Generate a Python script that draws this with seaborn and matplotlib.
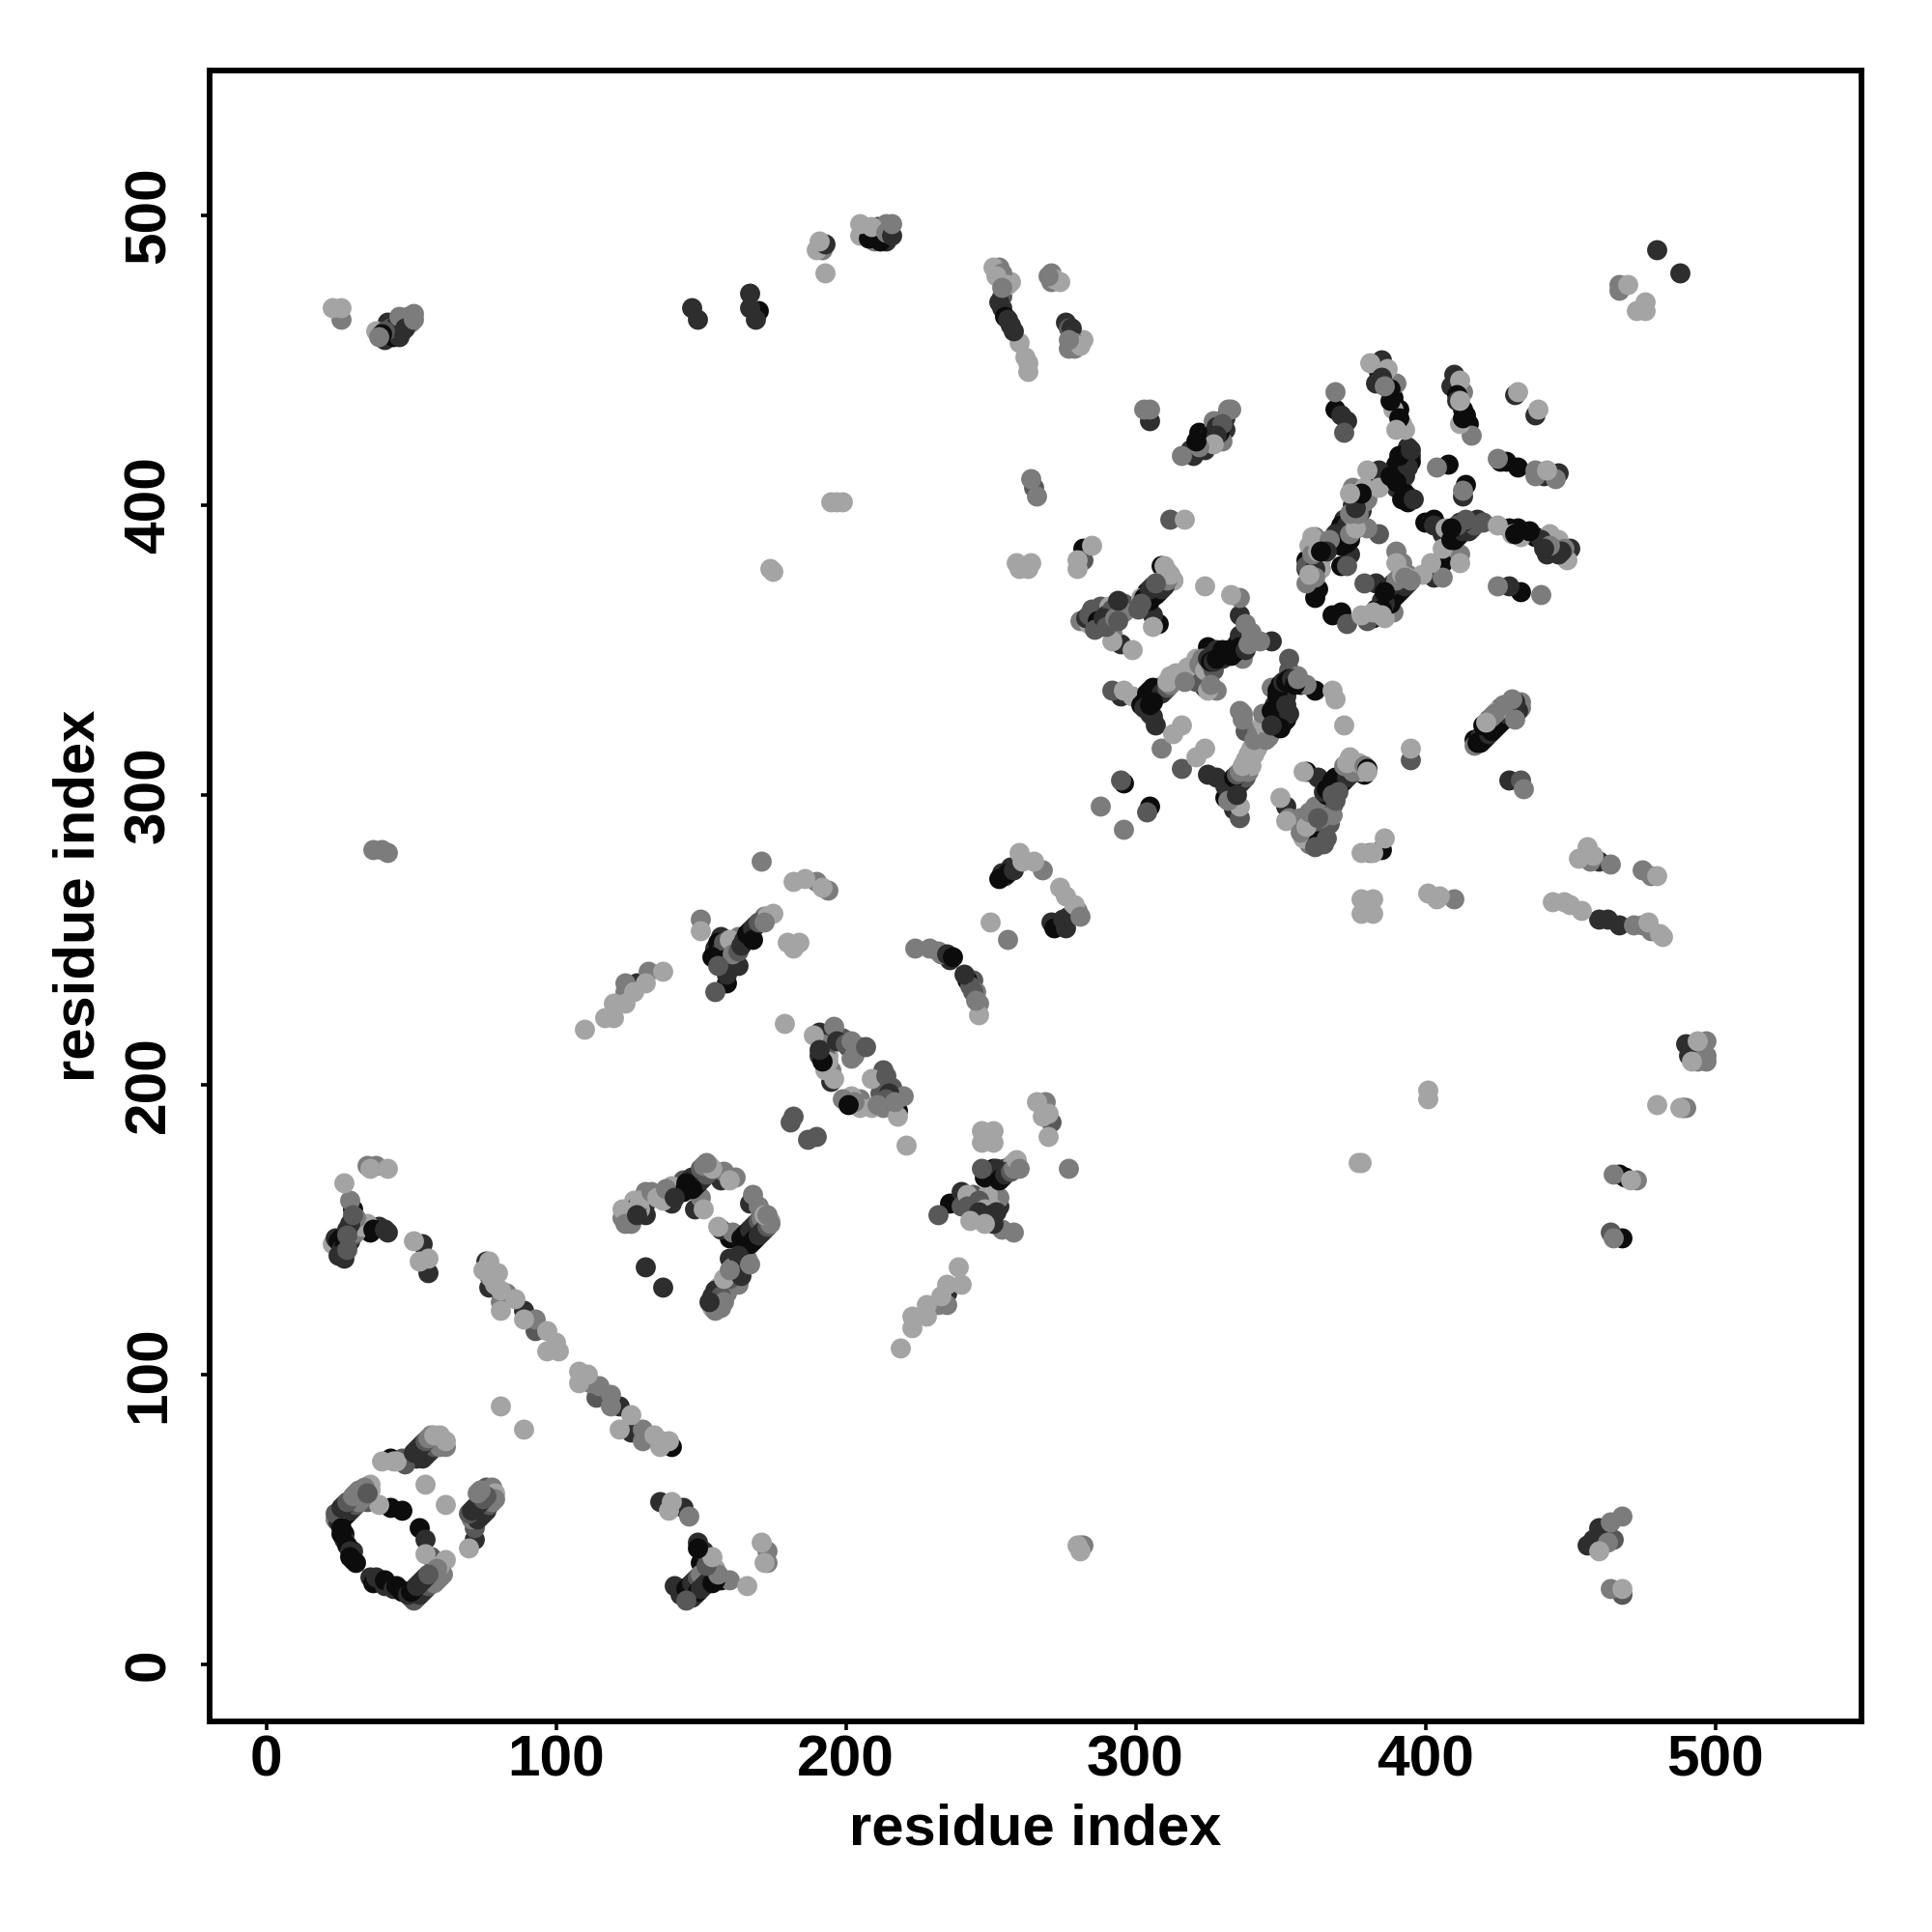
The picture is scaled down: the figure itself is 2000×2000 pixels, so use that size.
import matplotlib
matplotlib.use("Agg")
import matplotlib.pyplot as plt
import pandas as pd
import seaborn as sns

K, D, S, M, L = "k", "d", "s", "m", "l"
shade_colors = {"k": "#0c0c0c", "d": "#2e2e2e", "s": "#585858", "m": "#7c7c7c", "l": "#a4a4a4"}
tick_values = [0, 100, 200, 300, 400, 500]
axis_label = "residue index"

ring = [(24,50,M),(25,51,D),(26,52,D),(27,53,K),(28,54,S),(29,55,K),(30,56,M),(31,57,M),(32,58,M),(34,59,L),(36,60,L),(36,62,L),(33,60,M),(35,56,S),(39,55,L),(43,54,K),(47,53,K),
 (27,45,K),(27,43,D),(30,39,D),(30,36,K),(36,30,D),(39,29,D),(43,27,K),(46,26,K),(50,23,M),(51,24,D),(52,25,D),(53,26,D),(54,27,D),(55,28,M),(56,29,M),(57,30,M),(58,30,M),(59,31,M),(60,32,L),(62,36,L),(57,37,S),(55,38,L),(53,47,K),(55,43,D),
 (72,43,D),(70,40,L),(72,47,S),(71,50,M),(72,51,D),(73,52,D),(74,53,D),(75,54,D),(75,56,M),(76,57,D),(77,58,M),(76,61,S),(78,61,M),(79,59,L),
 (40,70,L),(43,71,K),(44,70,L),(47,71,S),(52,71,D),(53,72,D),(54,73,D),(55,74,D),(56,75,D),(57,76,S),(58,77,D),(59,78,L),(60,78,L),(61,76,M),(62,75,M),(55,62,L),(62,55,L)]
loop_left = [(35,172,M),(36,171,L),(38,172,M),(42,171,L),(27,166,L),(29,160,M),(30,157,K),(30,154,M),(23,145,L),(24,146,D),(25,144,K),(26,145,D),(27,146,K),(28,147,S),(29,149,M),(30,150,M),(31,151,M),(27,140,D),(26,142,K),(35,152,L),(36,149,K),(39,151,D),(42,149,D),
 (51,146,L),(54,145,D),(56,140,L),(56,135,D),(53,139,L)]
stripe_anti = [(76,139,D),(77,139,L),(75,136,L),(78,133,L),(77,130,D),(81,129,L),(81,125,M),(81,122,L),(86,126,L),(89,122,D),(89,119,L),(93,119,M),(93,115,S),(97,115,L),(100,111,L),(97,108,L),(101,108,L),
 (108,101,L),(108,97,L),(111,100,L),(112,97,M),(115,96,M),(114,92,S),(119,93,M),(119,89,M),(122,89,D),(126,86,L),(122,81,L),(126,80,D),(130,81,M),(130,77,M),(134,79,L),(136,77,K),(140,75,K),(136,75,L),(139,77,L),(81,89,L),(89,81,L),(79,131,L),(80,135,L),(77,134,M),(83,128,M)]
foot = [(136,56,D),(140,56,L),(139,53,L),(144,54,D),(146,51,M),(149,42,D),(151,39,D),(153,35,L),(150,35,K),(141,27,D),(144,26,D),(145,24,L),(146,23,L),(146,25,D),(147,25,K),(148,26,K),(149,27,D),(150,28,M),(151,29,M),(152,30,M),(153,31,M),(154,32,L),(155,33,L),(157,29,K),(160,29,M),(166,27,L),(171,42,L),(173,39,M),(173,35,M),(172,35,L)]
loop_mid = [(123,154,M),(123,157,L),(126,155,M),(127,160,L),(131,155,D),(131,159,D),(131,163,M),(129,157,L),(137,160,L),(140,159,D),(140,165,L),(140,164,D),(144,167,S),(146,165,K),(147,166,D),(148,167,K),(149,168,D),(150,169,D),(151,170,D),(152,171,M),(153,172,L),
 (150,161,M),(148,157,D),(151,157,L),(158,170,M),(157,167,D),(162,168,M),(160,167,L),(168,162,M),(167,159,D),(170,158,M),(165,145,K),(166,146,K),(167,147,K),(168,148,K),(169,149,D),(170,150,D),(171,151,D),(172,152,M),(174,153,L),
 (157,150,D),(156,151,L),(161,149,M),(160,147,K),(160,140,D),(166,140,M),(161,137,M),(164,137,L),(163,131,M),(159,131,D),(156,130,L),(159,128,M),(154,127,D),(156,124,M),(154,123,L),(157,123,M),(131,137,D),(137,130,D)]
upper_stripe = [(110,219,L),(117,223,L),(120,223,L),(120,228,L),(124,228,L),(124,232,M),(124,235,M),(128,235,D),(131,235,L),(132,239,M),(137,239,L),(127,232,L)]
patch_200 = [(179,221,L),(191,218,D),(189,217,L),(196,220,M),(199,216,S),(205,213,S),(201,213,D),(202,209,M),(194,213,D),(192,214,M),(194,210,L),(191,210,D),(195,205,M),(193,205,L),(196,202,L),(195,201,D),
 (213,205,S),(209,202,L),(213,200,S),(216,199,S),(220,196,M),(212,197,S),(202,196,L),(205,195,M),(205,192,L),(201,195,D),(209,192,L),(213,192,M),(218,191,K),(218,189,L),(221,179,L),(182,189,S),(181,187,S),(187,181,S),(190,182,S)]
patch_250 = [(232,155,S),(236,159,K),(240,163,D),(242,162,L),(240,158,S),(244,162,S),(244,155,L),(248,154,D),(245,158,L),(250,158,L),(249,162,L),(253,161,M),(253,158,D),(254,150,M),(258,149,M),
 (249,170,S),(251,168,K),(252,169,K),(253,169,K),(254,170,D),(255,171,D),(256,171,D),(257,172,M),(258,173,L),(247,184,L),(251,184,L),(247,180,L),(251,180,L),(249,182,L),(266,194,L),(269,194,M),(270,190,L),(271,187,S),(270,182,L),(268,189,L),(277,171,M)]
stripe_diag = [(219,109,L),(223,116,L),(223,120,L),(228,120,L),(228,124,L),(232,124,M),(235,124,M),(233,127,L),(235,128,D),(235,131,L),(240,131,L),(239,137,L)]
cluster_160 = [(155,232,S),(159,235,K),(150,257,M),(150,253,L),(155,247,D),(157,251,D),(157,243,M),(159,246,S),(163,251,M),(163,241,D),(159,238,D),(167,251,D),(169,255,D),(172,258,M),(175,259,L),(171,277,M),(180,249,L),(184,249,L),(182,247,L),(182,270,L),(186,271,L),(190,270,M),(192,268,L),(194,267,M)]
cluster_240 = [(224,247,M),(229,247,M),(233,245,M),(236,243,D),(244,236,S),(245,232,M),(246,228,M),(246,224,L),(250,256,L),(256,250,M),(254,273,D),(257,275,D),(260,280,L),(265,277,L),(268,274,M),(274,268,L),(276,265,L),(279,261,L),(280,260,M),(271,256,D),(274,256,D),(277,258,D),
 (37,281,M),(40,281,M),(42,280,M),(264,409,M),(265,406,S),(266,403,M),(259,380,L),(264,380,L),(260,378,L),(263,378,L),(195,401,L),(197,401,L),(199,401,L),(174,378,L),(175,377,L)]
top_row = [(23,468,L),(26,468,L),(26,464,M),(38,460,L),(41,457,D),(42,463,D),(45,460,D),(48,463,M),(51,466,M),(43,459,S),(147,468,D),(149,464,D),(167,473,D),(167,468,D),(170,467,K),(169,464,D),
 (192,489,D),(192,488,M),(190,488,L),(193,480,L),(207,495,M),(211,496,D),(214,497,M),(210,491,M),(214,491,D),(205,493,L),
 (251,482,L),(253,482,M),(254,477,M),(257,477,L),(254,468,D),(257,462,D),(260,456,L),(262,451,L),(263,449,L),(263,446,L),(271,480,M),(274,477,L),(271,477,M),(276,463,D),(278,458,M),(280,457,L),(282,457,L),(277,454,M)]
knot_320 = [(303,433,M),(305,433,M),(305,429,D),(316,417,M),(320,417,D),(319,419,D),(324,421,L),(322,425,K),(327,426,D),(326,422,M),(327,429,M),(330,422,M),(331,426,D),(331,430,D),(332,433,M),(333,433,M),(312,395,S),(317,395,L),
 (280,381,L),(280,378,L),(282,385,K),(282,381,S),(285,386,L)]
patch_290 = [(281,360,M),(284,359,L),(285,361,D),(285,364,S),(288,365,S),(288,358,M),(291,365,L),(292,356,M),(292,353,L),(295,352,D),(299,350,L),(296,366,S),(296,363,M),(302,368,L),(303,366,D),
 (304,370,K),(306,369,K),(307,371,D),(308,372,D),(309,373,M),(310,375,M),(311,377,M),(313,374,M),(309,379,K),(310,379,L),(313,374,L),(306,362,D),(308,359,K),(306,358,L),(324,372,L),(333,369,L),(336,368,M),
 (336,362,D),(338,359,M),(340,356,M),(343,353,M),(347,353,D),(337,347,M)]
diag_320 = [(292,336,S),(296,336,L),(295,334,D),(299,334,L),(303,334,D),(304,333,K),(305,334,K),(306,335,D),(307,336,D),(308,337,D),(309,337,M),(310,338,L),(313,340,L),(316,340,L),(318,344,L),(321,347,L),(325,351,K),(328,350,D),(326,348,D),(329,348,S),(332,350,D),(335,352,K),(336,355,D),(337,353,K),
 (321,339,S),(324,337,D),(328,336,M),(325,336,L),(305,328,D),(306,327,D),(307,324,D),(316,324,L),(313,321,L),(309,316,M),(324,316,L),(321,313,L),(316,309,S),(296,304,K),(305,296,K),(288,296,M),(296,288,M),(295,305,S),(304,294,S)]
diag_340 = [(325,307,D),(328,306,D),(332,301,D),(333,303,K),(334,304,K),(335,305,K),(336,306,D),(337,307,M),(338,309,M),(339,311,L),(341,314,L),(339,314,L),(344,321,M),(337,328,M),(336,329,M),(337,326,M),(338,322,S),(343,318,L),(336,296,L),(334,295,D),(336,292,S),
 (347,337,M),(353,347,S),(353,343,S),(356,341,M),(351,336,K),(350,334,D),(352,334,D),(357,338,K),(359,338,M),(362,336,K),(368,336,L),(369,333,L),(372,324,L),(351,328,D),(351,325,K),(346,328,M),(346,325,D),(347,322,M),(349,332,K),(351,333,D)]
patch_365 = [(350,299,L),(352,296,D),(353,292,M),(352,291,L),(357,292,M),(358,308,L),(359,308,K),(363,306,D),(366,304,K),(369,306,K),(367,302,D),(368,303,K),(369,304,K),(370,305,D),(371,306,K),(372,307,M),(373,308,M),(374,309,L),(376,309,L),(378,308,L),(379,307,K),(374,313,L),
 (368,296,S),(362,296,M),(366,292,M),(365,288,S),(360,287,D),(360,283,M),(358,285,L),(361,285,K),(364,286,D),(378,280,L),(381,280,M),(382,280,L),(385,281,K),(386,285,L),(395,316,L),(395,312,S),
 (429,305,D),(433,305,S),(434,302,M)]
diag_425 = [(417,317,M),(417,319,K),(419,320,D),(420,321,K),(421,322,D),(422,323,K),(423,324,K),(424,325,L),(425,326,K),(426,328,M),(426,330,D),(428,330,M),(430,329,D),(429,331,D),(431,330,M),(433,332,M),(433,330,M)]
arms = [(381,449,L),(385,450,D),(384,446,K),(387,447,L),(386,444,M),(383,442,D),(390,442,M),(389,437,K),(391,433,K),(389,433,L),(392,428,L),(393,426,L),
 (410,445,D),(412,443,L),(409,441,D),(413,439,M),(413,433,K),(415,428,K),(416,424,M),(412,428,L),(432,439,L),(431,438,D),(439,433,L),(438,431,D),
 (369,439,M),(369,433,K),(371,431,D),(373,429,D),(372,425,S),(384,412,D),(380,412,L),(380,406,K),(384,406,L),(375,406,M),(380,402,M),(377,402,D),(377,399,L),(375,400,D),
 (395,417,D),(394,420,D),(390,414,K),(392,414,D),(389,412,K),(393,412,D),(392,407,L),(390,406,D),(394,403,K),(394,401,K),(404,413,M),(408,414,K),(414,407,K),(413,405,M),(413,403,D),
 (425,416,M),(426,415,K),(428,415,K),(432,413,K),(438,412,M),(442,412,L),(438,410,M),(441,410,D),(446,411,D),(445,409,M)]
row_390 = [(400,394,K),(403,395,K),(403,393,D),(407,392,L),(406,390,D),(410,390,K),(411,391,D),(412,392,D),(414,393,S),(415,393,D),(416,394,D),(418,395,D),(420,394,S),(425,393,L),(429,392,K),(433,389,L),(432,392,K),(438,389,K),(443,390,L),(442,388,L),(446,388,L),(442,383,D),(445,385,M),(450,385,D),(449,381,L),
 (412,383,M),(412,380,L),(406,385,L),(406,380,K),(402,380,L),(406,375,M),(403,375,D),(399,376,L),(394,376,M),
 (387,368,K),(388,369,D),(389,370,K),(390,371,D),(391,372,K),(392,373,D),(394,375,L),(389,363,M),(386,361,L),(382,361,K),(380,360,S),(378,362,L),(385,367,D),(383,364,K),(373,359,S),(371,363,K),(368,362,K),
 (363,371,K),(362,368,K),(359,373,M),(379,373,S),(383,373,D),(390,384,M),(392,380,M),(390,380,L),(380,392,M),(384,390,S),(374,383,D),(373,379,S),(371,379,K),
 (369,387,K),(370,391,D),(372,395,D),(372,389,M),(376,395,S),(375,391,D),(374,388,K),(364,387,L),(360,386,L),(359,381,K),(359,378,D),(364,381,L),(364,378,L),(365,387,M),(359,379,S),
 (425,372,M),(429,372,D),(433,370,K),(440,369,M)]
right_side = [(480,488,D),(488,480,D),(467,474,M),(470,476,L),(476,470,L),(473,467,L),(476,467,L),(467,476,M),
 (444,263,L),(448,263,L),(450,262,L),(454,260,L),(460,257,D),(463,257,D),(467,255,D),(472,255,M),(475,255,M),(477,256,L),(478,253,M),(481,252,L),(482,251,L),
 (453,278,L),(456,282,L),(458,279,L),(460,277,D),(464,276,M),(457,277,M),(475,274,M),(478,272,M),(480,272,L),(401,266,L),(405,265,L),(404,264,L),(410,264,M),(378,264,L),(378,259,L),(382,264,L),(382,259,L),
 (490,214,D),(494,215,L),(497,215,M),(491,210,D),(494,208,M),(497,210,M),(497,208,M),(492,208,L),(480,193,L),(488,192,L),(489,192,D),(490,192,M),
 (465,169,M),(467,169,K),(469,168,K),(471,167,L),(473,167,M),(464,149,S),(465,147,M),(468,147,K),(401,198,L),(401,195,L),(377,173,L),(378,173,L),
 (281,41,M),(281,39,L),(282,41,M),(280,41,L),(456,41,D),(458,43,D),(460,39,L),(460,47,D),(463,42,M),(464,49,M),(465,43,S),(468,51,M),(460,43,D),(464,26,M),(468,26,L),(468,24,S)]

dense_ring = [(25,49,D),(26,50,K),(27,51,K),(28,52,K),(29,53,D),(30,54,D),(31,55,S),(32,56,M),(33,57,M),(24,52,S),(26,54,D),(27,55,D),(28,56,S),(30,58,M),(31,59,M),(32,60,M),(34,61,M),(35,59,S),
 (26,47,K),(26,45,K),(28,41,K),(29,39,D),(29,37,K),(31,35,K),(37,28,K),(38,30,D),(41,27,D),(41,29,K),(44,26,D),(45,27,K),(47,25,K),
 (51,22,S),(52,23,S),(53,24,D),(54,25,D),(55,26,D),(56,27,S),(57,28,S),(58,28,M),(59,29,M),(60,30,M),(61,31,M),(60,34,L),(59,33,M),(49,24,D),(50,25,K),(51,26,K),(52,27,D),(53,28,D),(54,29,D),(55,30,D),(56,31,S),
 (73,50,D),(74,51,D),(75,52,D),(76,53,D),(77,55,S),(78,56,M),(79,57,M),(70,52,S),(71,53,D),(72,54,D),(73,55,D),(74,56,D),(75,57,S),(76,58,S),(73,59,M),(74,60,M),
 (48,69,S),(45,70,L),(54,71,D),(55,72,D),(56,73,D),(57,74,D),(58,75,S),(59,76,S),(60,75,M),(62,77,L),(60,79,L),(51,73,D),(52,74,D),(53,75,D),(54,76,D),(55,77,S),(56,78,M),(57,79,M),(58,79,L)]
dense_left = [(24,147,D),(25,146,K),(26,147,K),(26,143,D),(27,144,K),(28,145,K),(29,146,D),(30,148,S),(31,149,M),(32,152,M),(33,151,L),(31,154,M),(29,152,D),(28,150,D),(25,141,D),(27,142,D),(28,143,S),(37,150,K),(41,150,D),(30,155,S),(28,148,S)]
dense_mid = [(144,163,K),(145,164,K),(146,167,D),(147,168,D),(148,165,K),(149,166,K),(150,167,D),(151,168,D),(152,169,S),(153,170,S),(150,171,S),(151,172,M),(154,171,L),(152,173,M),(145,166,K),(147,164,K),
 (164,147,K),(165,148,K),(166,149,K),(167,150,D),(168,151,D),(169,152,D),(170,153,S),(171,154,M),(167,145,K),(168,146,K),(169,147,K),(170,148,D),(171,149,D),(172,150,D),(173,151,S),(174,152,M),(172,155,L),(173,155,M),
 (155,126,S),(155,129,D),(157,127,S),(158,125,M),(155,122,M),(153,125,D),(160,133,S),(158,133,L),(164,134,D),(163,141,D),(167,138,M),(160,136,M),(128,158,S),(129,160,L),(125,156,L),(124,152,M),(126,152,M),(128,155,D),(133,163,M),(135,161,L),(138,164,M),(141,161,D)]
dense_250 = [(248,168,K),(250,170,K),(251,171,K),(252,171,D),(253,167,K),(254,168,K),(255,169,D),(256,170,D),(257,170,S),(258,171,M),(259,172,M),(259,174,L),(260,171,M),(247,171,S),(242,158,S),(246,160,S),(248,157,L),(250,155,D),(252,156,D),(246,156,D),(251,152,D),(248,152,L),(243,153,L)]
dense_foot = [(143,24,D),(144,24,D),(145,26,K),(146,27,K),(147,28,D),(148,29,D),(149,30,S),(150,31,M),(147,23,D),(148,24,D),(149,25,K),(150,26,D),(151,27,D),(152,28,D),(153,29,D),(154,28,K),(145,22,S),(155,29,K),(156,31,M),(152,34,S),(154,37,L),(149,40,K)]
dense_knot = [(323,423,K),(325,423,D),(326,424,K),(328,427,D),(329,425,K),(330,428,S),(328,424,D),(324,419,D),(327,421,L),(322,420,M),(321,422,K)]
dense_290 = [(303,368,K),(304,367,K),(305,367,K),(306,372,D),(307,369,K),(308,370,K),(309,371,D),(310,372,D),(311,374,M),(312,376,L),(305,371,D),(307,373,S),(301,364,S),(302,366,S),(290,362,D),(292,364,S),(283,361,D),(284,362,S),(287,360,K),(286,357,S),(289,361,D),(290,358,S),(293,361,M),(294,367,D),(294,360,S)]
dense_320 = [(302,331,K),(303,332,K),(304,335,K),(305,336,K),(306,337,K),(307,334,K),(308,335,K),(309,335,D),(310,336,D),(311,337,S),(312,338,M),(311,339,L),(312,341,L),(314,342,L),(316,342,L),(317,339,M),(303,330,D),(304,330,D),(305,331,K),(306,332,K),
 (322,345,M),(323,347,M),(324,343,L),(326,345,M),(327,343,S),(325,347,D),(330,347,D),(326,338,M),(326,346,K),(327,346,D),(328,347,K),(330,350,K),(331,349,K),(333,350,K),(333,348,K),(334,349,K),(335,350,K),(336,351,K),(337,351,K),(338,350,D),(339,352,M),(340,354,M)]
dense_340 = [(331,299,K),(332,300,K),(333,301,K),(334,302,K),(335,303,K),(336,304,D),(337,305,D),(338,306,S),(339,308,M),(340,310,L),(331,303,D),(332,304,D),(333,305,D),(334,306,K),(335,307,S),(336,308,M),(337,310,L),(338,312,L),(340,316,L),(342,316,L),(341,319,M),(342,322,M),(345,319,M),(345,323,L),(346,320,M),(332,298,M),(335,300,D),
 (344,325,L),(344,328,M),(348,331,D),(349,334,K),(349,336,K),(350,338,K),(351,339,D),(352,339,K),(353,340,K),(354,340,D),(355,338,K),(356,340,M),(347,329,K),(349,327,K),(349,330,K),(352,331,D),(352,326,K),(353,328,D),(350,323,K),(348,324,K),(347,324,D)]
dense_365 = [(366,300,K),(367,304,D),(368,305,K),(369,302,K),(370,303,K),(371,304,K),(372,305,K),(373,306,D),(374,307,D),(375,308,M),(372,310,M),(373,311,L),(377,311,L),(379,310,M),(380,309,K),(380,308,L),(365,301,D),(366,302,K),(368,300,S),(370,301,S),
 (361,290,D),(362,288,S),(363,284,K),(362,282,S),(365,283,S),(367,290,S),(364,292,M),(368,293,M),(357,287,M),(359,289,L),(366,285,S),(369,298,S),(360,294,M),(363,292,S)]
dense_top = [(388,366,K),(389,368,K),(390,369,K),(391,370,K),(392,371,K),(393,372,D),(394,373,D),(386,366,D),(387,371,K),(388,372,D),(389,373,D),(390,374,M),(392,376,L),(393,375,M),(395,374,M),(386,370,K),(385,364,K),(385,362,L),(382,363,L),
 (372,392,K),(371,393,K),(373,393,D),(370,389,K),(369,390,D),(367,386,D),(371,386,K),(373,387,K),(374,390,M),(376,392,L),(375,396,L),(378,398,D),(377,397,M),(379,401,M),(374,397,M),(376,399,D),(375,403,D),(379,406,L),(378,404,K),(374,404,L),
 (395,415,K),(393,416,D),(391,412,K),(392,411,K),(394,413,D),(391,417,K),(393,410,D),(388,410,K),(390,408,K),(395,419,D),(393,404,K),(392,402,K),(396,402,D),
 (409,388,K),(410,388,K),(411,389,K),(412,390,K),(413,391,D),(414,392,K),(415,391,D),(416,392,D),(417,393,S),(413,394,D),(412,394,D),(414,395,S),(411,393,S),(409,392,K),
 (362,378,D),(362,375,M),(360,376,L),(361,383,M),(363,384,L),(362,389,M),(361,389,L),(367,388,M),(366,384,D),(364,384,K),
 (388,440,K),(388,436,K),(385,444,D),(386,441,M),(391,430,K),(390,426,L),(411,438,K),(411,436,D),(413,430,K),(414,431,K),(412,436,L),
 (440,388,D),(444,385,K),(446,383,D),(448,385,M),(447,384,D),(443,386,M),(441,385,D),(436,391,K),(430,390,L),(431,390,K)]
dense_425 = [(418,318,K),(419,318,K),(420,319,K),(421,320,K),(422,321,D),(423,322,K),(424,323,K),(425,324,K),(426,325,K),(427,326,K),(428,328,D),(430,327,D),(431,332,D),(432,329,D),(425,329,L),(424,328,M),(422,326,D),(423,327,M),(420,324,K),(421,325,L),(427,331,M),(430,333,M),(431,326,M)]
dense_row = [(44,458,K),(46,458,D),(43,461,S),(45,462,D),(47,460,D),(46,465,M),(49,465,M),(50,463,M),(48,461,D),(41,460,S),(40,459,K),(39,458,M),(51,464,M),
 (254,472,S),(253,470,D),(255,465,K),(256,464,D),(258,460,D),(254,480,M),(252,479,L),(256,476,L),(254,475,M),(277,461,S),(278,461,D),(279,456,M),(279,454,M),(281,455,L),(277,457,M),
 (208,492,K),(212,493,D),(212,491,K),(209,496,L),(214,494,M),(216,493,D),(216,497,M),(205,497,L),(272,478,L),(270,479,M),(193,490,D),(191,491,L)]
dense_160 = [(156,249,K),(157,246,D),(158,249,S),(160,250,L),(158,243,K),(160,241,D),(161,245,M),(163,246,S),(164,248,D),(165,250,D),(166,252,K),(167,253,K),(168,254,D),(168,250,K),(170,256,S),(173,258,L),(172,256,M),(154,244,K),(156,241,S)]
dense_200 = [(193,210,S),(194,208,L),(197,215,D),(200,214,S),(202,215,M),(203,210,M),(207,213,S),(192,208,K),(191,212,D),(214,203,S),(215,197,D),(214,195,S),(211,193,M),(217,194,M),(203,194,M),(199,195,M),(201,193,K)]
dense_240 = [(255,272,D),(256,273,K),(253,271,K),(258,274,D),(261,277,L),(272,254,K),(275,257,D),(276,254,D),(279,262,L),(281,258,M),(242,236,K),(243,234,S),(241,238,D),(232,246,M),(235,245,D),(237,244,K),(244,232,S),(245,229,M)]

clusters = [ring, loop_left, stripe_anti, foot, loop_mid, upper_stripe, patch_200, patch_250, stripe_diag, cluster_160, cluster_240,
            top_row, knot_320, patch_290, diag_320, diag_340, patch_365, diag_425, arms, row_390, right_side]
dense = [dense_ring, dense_left, dense_mid, dense_250, dense_foot, dense_knot, dense_290, dense_320, dense_340, dense_365,
         dense_top, dense_425, dense_row, dense_160, dense_200, dense_240]

order = {"k": 0, "d": 1, "s": 2, "m": 3, "l": 4}
base = pd.DataFrame([p for c in clusters for p in c], columns=["i", "j", "shade"])
base = base.sort_values("shade", key=lambda s: s.map(order), kind="stable")
over = pd.DataFrame([p for c in dense for p in c], columns=["i", "j", "shade"])
df = pd.concat([base, over], ignore_index=True)

sns.set_theme(style="white")
plt.rcParams["font.family"] = ["Liberation Sans", "DejaVu Sans"]
fig = plt.figure(figsize=(20, 20), dpi=100, facecolor="white")
ax = fig.add_axes([217/2000, 1-1782/2000, 1710/2000, 1709/2000])
sns.scatterplot(data=df, x="i", y="j", hue="shade", palette=shade_colors, s=225, linewidth=0, legend=False, ax=ax)
ax.set_xlim(-19.5, 550.5)
ax.set_ylim(-19.7, 550)
ax.set_xticks(tick_values)
ax.set_yticks(tick_values)
ax.set_xticklabels([str(v) for v in tick_values], fontsize=43.5, fontweight="bold")
ax.set_yticklabels([str(v) for v in tick_values], fontsize=43.5, fontweight="bold", rotation=90, va="center")
ax.tick_params(axis="both", length=6.5, width=2.6, color="black", labelcolor="black", direction="out", left=True, bottom=True)
ax.tick_params(axis="x", pad=3)
ax.tick_params(axis="y", pad=18.5)
ax.set_xlabel(axis_label, fontsize=43, fontweight="bold", color="black", labelpad=12)
ax.set_ylabel(axis_label, fontsize=43, fontweight="bold", color="black", labelpad=12.5)
for sp in ax.spines.values():
    sp.set_visible(True)
    sp.set_color("black")
    sp.set_linewidth(4.2)
fig.savefig("out.png", dpi=100, facecolor="white")
